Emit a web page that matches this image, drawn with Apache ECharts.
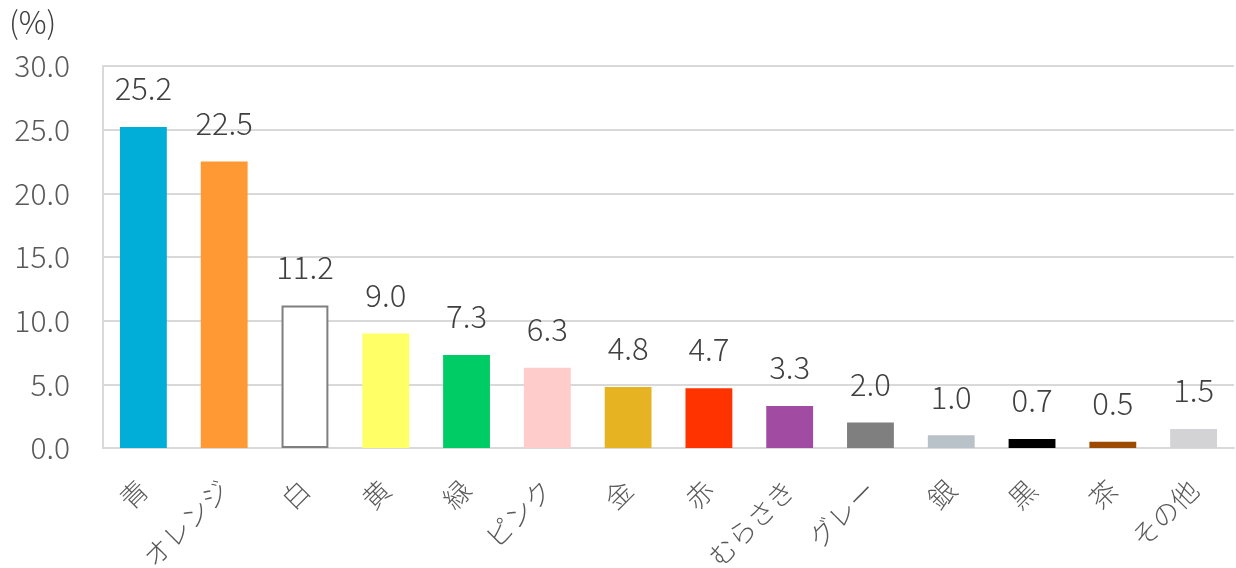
<!DOCTYPE html>
<html><head><meta charset="utf-8">
<script src="https://cdn.jsdelivr.net/npm/echarts@6/dist/echarts.min.js"></script>
<style>html,body{margin:0;padding:0;background:#fff}#c{width:1236px;height:568px}</style>
</head><body><div id="c"></div>
<script>
const categories = ['青','オレンジ','白','黄','緑','ピンク','金','赤','むらさき','グレー','銀','黒','茶','その他'];
const values = [25.2,22.5,11.2,9.0,7.3,6.3,4.8,4.7,3.3,2.0,1.0,0.7,0.5,1.5];
const colors = ['#00AED8','#FF9933','#FFFFFF','#FFFF66','#00CC66','#FFCCCC','#E6B422','#FF3300','#A24BA3','#7F7F7F','#B9C1C9','#000000','#9C4A00','#D3D3D5'];
const yTicks = [0,5,10,15,20,25,30];
const F = '"Noto Sans CJK JP", "Noto Sans", sans-serif';
const chart = echarts.init(document.getElementById('c'));
chart.setOption({
  animation:false,
  grid:{left:103,right:2,top:66,bottom:120,containLabel:false,outerBoundsMode:'none'},
  graphic:[{type:'text',left:9,top:7,style:{text:'(%)',font:'300 31px '+F,fill:'#404040'}}],
  xAxis:{type:'category',data:categories,
    axisLine:{show:true,lineStyle:{color:'#d9d9d9',width:2}},
    axisTick:{show:false},
    axisLabel:{rotate:45,fontSize:27,fontWeight:300,fontFamily:F,color:'#595959',margin:37,interval:0}},
  yAxis:{type:'value',min:yTicks[0],max:yTicks[yTicks.length-1],interval:5,
    axisLine:{show:true,lineStyle:{color:'#d9d9d9',width:2}},
    axisTick:{show:false},
    splitLine:{lineStyle:{color:'#d9d9d9',width:2}},
    axisLabel:{fontSize:30,fontWeight:300,fontFamily:F,color:'#595959',margin:33,formatter:v=>v.toFixed(1)}},
  series:[{type:'bar',barWidth:'58%',
    data:values.map((v,i)=>({value:v,itemStyle:{color:colors[i],borderColor:i===2?'#7F7F7F':colors[i],borderWidth:i===2?2:0}})),
    label:{show:true,position:'top',distance:23,fontSize:31,fontWeight:300,fontFamily:F,color:'#404040',formatter:p=>p.value.toFixed(1)}}]
});
</script></body></html>
